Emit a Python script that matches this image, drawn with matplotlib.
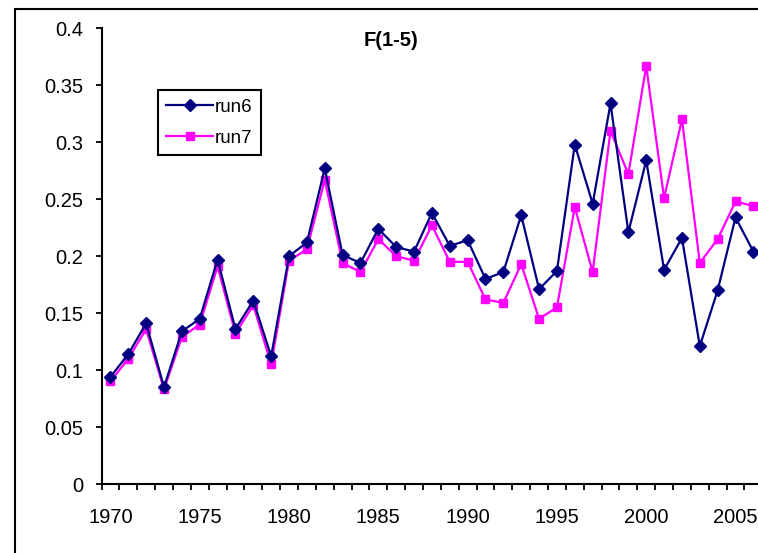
import matplotlib
matplotlib.use("Agg")
import matplotlib.pyplot as plt
from matplotlib.patches import Rectangle
import numpy as np

plt.rcParams['font.family'] = ['Liberation Sans', 'DejaVu Sans']

years = list(range(1970, 2007))
run6 = [0.094, 0.114, 0.141, 0.085, 0.134, 0.145, 0.197, 0.136, 0.161, 0.112,
        0.200, 0.212, 0.277, 0.201, 0.194, 0.224, 0.208, 0.204, 0.238, 0.209,
        0.214, 0.180, 0.186, 0.236, 0.171, 0.187, 0.298, 0.246, 0.334, 0.221,
        0.284, 0.188, 0.216, 0.121, 0.170, 0.234, 0.204]
run7 = [0.090, 0.110, 0.136, 0.083, 0.129, 0.140, 0.191, 0.132, 0.157, 0.105,
        0.196, 0.206, 0.267, 0.194, 0.186, 0.215, 0.200, 0.196, 0.227, 0.195,
        0.195, 0.162, 0.159, 0.193, 0.145, 0.155, 0.243, 0.186, 0.310, 0.272,
        0.367, 0.251, 0.320, 0.194, 0.215, 0.248, 0.244]
yticks = [0, 0.05, 0.1, 0.15, 0.2, 0.25, 0.3, 0.35, 0.4]
ytick_labels = ['0', '0.05', '0.1', '0.15', '0.2', '0.25', '0.3', '0.35', '0.4']
title = 'F(1-5)'
series_names = ['run6', 'run7']

W, H = 758, 553
fig = plt.figure(figsize=(W / 100, H / 100), dpi=100)

# chart-area border (cropped on right/bottom)
fig.patches.append(Rectangle((15 / W, -0.2), 1.5, 1 - 9 / H + 0.2,
                             transform=fig.transFigure, fill=False,
                             edgecolor='black', linewidth=1.5, zorder=0))

ax_left, ax_bottom_px, ax_top_px = 101.5, 484, 28.3
ax = fig.add_axes([ax_left / W, (H - ax_bottom_px) / H, (W - ax_left) / W,
                   (ax_bottom_px - ax_top_px) / H])
ax.set_facecolor('none')

x = np.arange(len(years))
ax.plot(x, run6, color='#000080', lw=1.6, marker='D', ms=5.8,
        markerfacecolor='#000080', markeredgecolor='#000080', label=series_names[0], zorder=3)
ax.plot(x, run7, color='#FF00FF', lw=1.6, marker='s', ms=6,
        markerfacecolor='#FF00FF', markeredgecolor='#FF00FF', label=series_names[1], zorder=2)

for s in ['top', 'right']:
    ax.spines[s].set_visible(False)
for s in ['left', 'bottom']:
    ax.spines[s].set_linewidth(1.5)
    ax.spines[s].set_color('black')

label_idx = [i for i, yv in enumerate(years) if yv % 5 == 0]
ax.set_xticks(label_idx)
ax.set_xticklabels([str(years[i]) for i in label_idx], fontsize=14.5)
ax.set_xticks(np.arange(-0.5, len(years) + 1, 1), minor=True)
ax.tick_params(axis='x', which='major', length=0, pad=17.5)
ax.tick_params(axis='x', which='minor', length=4, width=1.3, direction='out')

ax.set_yticks(yticks)
ax.set_yticklabels(ytick_labels, fontsize=14.5)
ax.tick_params(axis='y', which='major', length=4, width=1.3, direction='out', pad=9)

spacing = 17.86
ax.set_xlim(-0.5, -0.5 + (W - ax_left) / spacing)
ax.set_ylim(0, 0.4)

fig.text(391 / W, 1 - 40 / H, title, fontsize=14.5, fontweight='bold',
         ha='center', va='center')

leg = ax.legend(loc='upper left', bbox_to_anchor=(158 / W, 1 - 90 / H),
                bbox_transform=fig.transFigure, fontsize=13.5, frameon=True,
                fancybox=False, framealpha=1, edgecolor='black',
                handlelength=2.5, handletextpad=0.1, borderpad=0.45,
                labelspacing=0.75, borderaxespad=0, markerscale=1.0)
leg.get_frame().set_linewidth(1.5)

fig.savefig('out.png', dpi=100)
